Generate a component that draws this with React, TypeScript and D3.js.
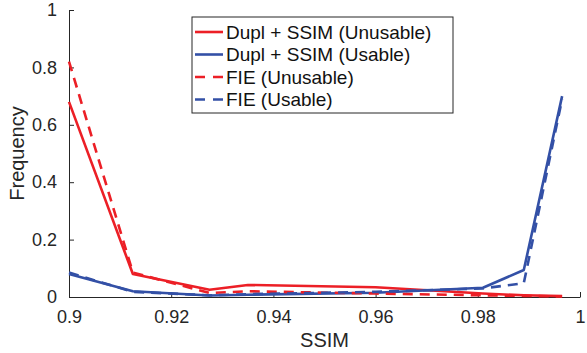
import { useEffect, useRef } from 'react'
import * as d3 from 'd3'

// SSIM bin positions (x) and frequencies for each series
const ssimBins = [0.9, 0.9125, 0.9275, 0.935, 0.96, 0.981, 0.989, 0.9965]
const duplUnusable = [0.68, 0.08, 0.025, 0.042, 0.034, 0.012, 0.006, 0.003]
const duplUsable = [0.08, 0.02, 0.005, 0.008, 0.015, 0.032, 0.094, 0.70]
const fieUnusable = [0.82, 0.085, 0.014, 0.02, 0.012, 0.006, 0.004, 0.002]
const fieUsable = [0.085, 0.018, 0.006, 0.01, 0.018, 0.03, 0.048, 0.69]

const xTicks = [0.9, 0.92, 0.94, 0.96, 0.98, 1]
const yTicks = [0, 0.2, 0.4, 0.6, 0.8, 1]

const RED = '#ec1f26'
const BLUE = '#3350a6'
const INK = '#262626'

const seriesList = [
  { name: 'Dupl + SSIM (Unusable)', values: duplUnusable, color: RED, dashed: false },
  { name: 'Dupl + SSIM (Usable)', values: duplUsable, color: BLUE, dashed: false },
  { name: 'FIE (Unusable)', values: fieUnusable, color: RED, dashed: true },
  { name: 'FIE (Usable)', values: fieUsable, color: BLUE, dashed: true },
]

export default function App() {
  const svgRef = useRef<SVGSVGElement>(null)

  useEffect(() => {
    if (!svgRef.current) return
    const root = d3.select(svgRef.current)
    root.selectAll('*').remove()

    const font = '"Liberation Sans", Arial, sans-serif'
    const x = d3.scaleLinear().domain([0.9, 1]).range([69, 580])
    const y = d3.scaleLinear().domain([0, 1]).range([297, 10])

    const g = root.append('g')

    // axes (box off, ticks inward)
    const xAxis = g.append('g')
      .attr('transform', `translate(0,${y(0)})`)
      .call(d3.axisBottom(x).tickValues(xTicks).tickSizeInner(-5).tickSizeOuter(0)
        .tickPadding(13).tickFormat(d => d3.format('')(+d)))
    const yAxis = g.append('g')
      .attr('transform', `translate(${x(0.9)},0)`)
      .call(d3.axisLeft(y).tickValues(yTicks).tickSizeInner(-5).tickSizeOuter(0)
        .tickPadding(12).tickFormat(d => d3.format('')(+d)))
    for (const ax of [xAxis, yAxis]) {
      ax.select('.domain').attr('stroke', INK).attr('stroke-width', 1)
      ax.selectAll('.tick line').attr('stroke', INK).attr('stroke-width', 1)
      ax.selectAll('.tick text').attr('fill', INK).style('font-family', font).style('font-size', '18px')
    }

    // axis labels
    g.append('text')
      .attr('x', (x(0.9) + x(1)) / 2)
      .attr('y', 347)
      .attr('text-anchor', 'middle')
      .attr('fill', INK)
      .style('font-family', font)
      .style('font-size', '20px')
      .text('SSIM')
    g.append('text')
      .attr('transform', `translate(24,${(y(0) + y(1)) / 2}) rotate(-90)`)
      .attr('text-anchor', 'middle')
      .attr('fill', INK)
      .style('font-family', font)
      .style('font-size', '20px')
      .text('Frequency')

    // lines
    const line = d3.line<number>()
      .x((_, i) => x(ssimBins[i]))
      .y(d => y(d))

    seriesList.forEach(s => {
      g.append('path')
        .datum(s.values)
        .attr('fill', 'none')
        .attr('stroke', s.color)
        .attr('stroke-width', 2.6)
        .attr('stroke-linejoin', 'round')
        .attr('stroke-dasharray', s.dashed ? '10,7' : null)
        .attr('d', line)
    })

    // legend
    const legend = g.append('g').attr('transform', 'translate(192,17)')
    legend.append('rect')
      .attr('width', 261)
      .attr('height', 96)
      .attr('fill', 'white')
      .attr('stroke', INK)
      .attr('stroke-width', 1)
    seriesList.forEach((s, i) => {
      const cy = 15 + i * 22.5
      legend.append('line')
        .attr('x1', 3).attr('x2', 31)
        .attr('y1', cy).attr('y2', cy)
        .attr('stroke', s.color)
        .attr('stroke-width', 2.6)
        .attr('stroke-dasharray', s.dashed ? '10,8' : null)
      legend.append('text')
        .attr('x', 34)
        .attr('y', cy)
        .attr('dy', '0.35em')
        .attr('fill', '#111')
        .style('font-family', font)
        .style('font-size', '19px')
        .text(s.name)
    })
  }, [])

  return (
    <svg
      ref={svgRef}
      width={587}
      height={353}
      style={{ position: 'absolute', left: 0, top: 0, background: 'white' }}
    />
  )
}
